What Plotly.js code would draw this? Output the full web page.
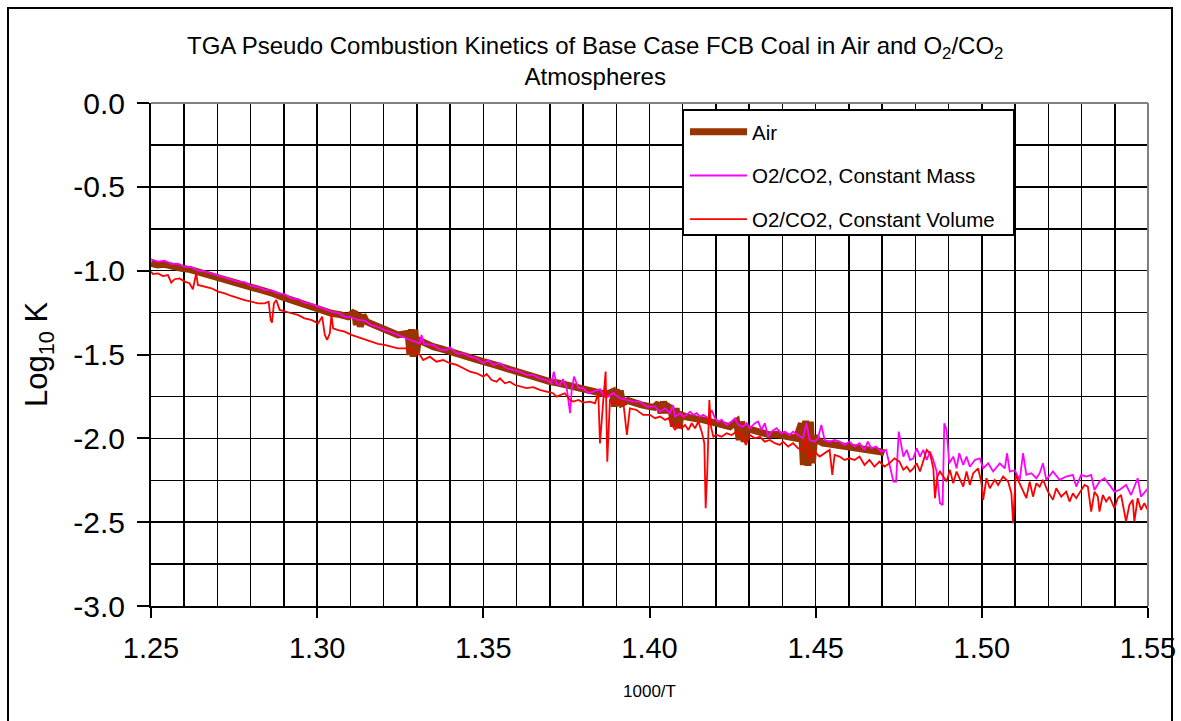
<!DOCTYPE html>
<html>
<head>
<meta charset="utf-8">
<script src="https://cdn.plot.ly/plotly-3.0.1.min.js"></script>
<style>html,body{margin:0;padding:0;background:#fff;}#chart{width:1181px;height:721px;}</style>
</head>
<body>
<div id="chart"></div>
<script>
// ---- Data ----
var seriesNames = ["Air", "O2/CO2, Constant Mass", "O2/CO2, Constant Volume"];

var airX = [1.2500,1.2520,1.2541,1.2566,1.2591,1.2616,1.2641,1.2666,1.2692,1.2717,1.2742,1.2767,1.2792,1.2817,1.2842,1.2867,1.2892,1.2917,1.2942,1.2967,1.2993,1.3018,1.3043,1.3068,1.3093,1.3113,1.3118,1.3123,1.3130,1.3138,1.3148,1.3170,1.3193,1.3218,1.3243,1.3274,1.3279,1.3284,1.3289,1.3294,1.3299,1.3304,1.3325,1.3349,1.3374,1.3399,1.3425,1.3450,1.3475,1.3500,1.3525,1.3550,1.3575,1.3600,1.3625,1.3650,1.3675,1.3700,1.3725,1.3751,1.3776,1.3801,1.3826,1.3851,1.3870,1.3889,1.3894,1.3900,1.3906,1.3912,1.3918,1.3935,1.3951,1.3976,1.4001,1.4015,1.4027,1.4035,1.4042,1.4050,1.4057,1.4065,1.4072,1.4080,1.4088,1.4095,1.4110,1.4122,1.4142,1.4162,1.4182,1.4202,1.4222,1.4242,1.4262,1.4270,1.4277,1.4285,1.4292,1.4307,1.4322,1.4342,1.4362,1.4382,1.4402,1.4422,1.4442,1.4457,1.4463,1.4470,1.4477,1.4484,1.4490,1.4497,1.4510,1.4522,1.4542,1.4562,1.4582,1.4602,1.4622,1.4642,1.4662,1.4682,1.4695,1.4707];
var airY = [-0.956,-0.966,-0.962,-0.978,-0.986,-0.992,-1.006,-1.018,-1.036,-1.046,-1.065,-1.076,-1.095,-1.106,-1.125,-1.136,-1.155,-1.172,-1.195,-1.206,-1.224,-1.236,-1.254,-1.262,-1.274,-1.244,-1.324,-1.254,-1.334,-1.264,-1.304,-1.322,-1.344,-1.360,-1.383,-1.373,-1.503,-1.349,-1.513,-1.353,-1.493,-1.413,-1.435,-1.453,-1.466,-1.483,-1.496,-1.513,-1.526,-1.543,-1.556,-1.572,-1.585,-1.602,-1.615,-1.632,-1.645,-1.662,-1.670,-1.682,-1.700,-1.711,-1.720,-1.731,-1.738,-1.721,-1.811,-1.707,-1.807,-1.715,-1.791,-1.775,-1.781,-1.800,-1.811,-1.815,-1.791,-1.850,-1.781,-1.847,-1.811,-1.821,-1.930,-1.821,-1.940,-1.860,-1.872,-1.880,-1.884,-1.890,-1.902,-1.910,-1.918,-1.930,-1.900,-2.010,-1.900,-2.020,-1.940,-1.950,-1.960,-1.968,-1.980,-1.976,-1.980,-1.992,-2.000,-1.910,-2.159,-1.894,-2.164,-1.900,-2.149,-1.990,-2.016,-2.029,-2.034,-2.039,-2.046,-2.049,-2.054,-2.059,-2.066,-2.069,-2.080,-2.089];

var massX = [1.2500,1.2521,1.2541,1.2561,1.2581,1.2601,1.2621,1.2641,1.2662,1.2682,1.2702,1.2722,1.2742,1.2762,1.2782,1.2802,1.2822,1.2842,1.2862,1.2882,1.2902,1.2922,1.2942,1.2962,1.2982,1.3003,1.3023,1.3043,1.3063,1.3083,1.3103,1.3123,1.3143,1.3163,1.3183,1.3203,1.3223,1.3243,1.3279,1.3309,1.3314,1.3321,1.3349,1.3369,1.3389,1.3399,1.3420,1.3440,1.3460,1.3480,1.3500,1.3515,1.3530,1.3550,1.3570,1.3590,1.3610,1.3630,1.3650,1.3670,1.3690,1.3705,1.3712,1.3720,1.3730,1.3740,1.3751,1.3761,1.3766,1.3773,1.3786,1.3801,1.3816,1.3831,1.3851,1.3861,1.3876,1.3891,1.3911,1.3931,1.3951,1.3971,1.3991,1.4017,1.4032,1.4047,1.4062,1.4070,1.4077,1.4092,1.4102,1.4112,1.4122,1.4132,1.4142,1.4152,1.4162,1.4177,1.4187,1.4197,1.4207,1.4217,1.4232,1.4247,1.4257,1.4267,1.4282,1.4292,1.4302,1.4317,1.4327,1.4337,1.4347,1.4357,1.4367,1.4382,1.4397,1.4407,1.4422,1.4432,1.4447,1.4462,1.4472,1.4482,1.4497,1.4507,1.4517,1.4527,1.4542,1.4557,1.4572,1.4587,1.4602,1.4617,1.4632,1.4647,1.4657,1.4667,1.4682,1.4697,1.4712,1.4727,1.4734,1.4742,1.4750,1.4764,1.4774,1.4784,1.4794,1.4804,1.4814,1.4824,1.4834,1.4844,1.4854,1.4864,1.4874,1.4882,1.4887,1.4894,1.4902,1.4914,1.4924,1.4932,1.4944,1.4954,1.4964,1.4979,1.4994,1.5004,1.5019,1.5034,1.5054,1.5069,1.5076,1.5084,1.5099,1.5114,1.5124,1.5134,1.5149,1.5164,1.5174,1.5184,1.5194,1.5214,1.5234,1.5254,1.5274,1.5284,1.5299,1.5314,1.5329,1.5339,1.5354,1.5369,1.5384,1.5399,1.5414,1.5434,1.5449,1.5469,1.5479,1.5494,1.5500];
var massY = [-0.932,-0.946,-0.940,-0.960,-0.958,-0.976,-0.978,-1.000,-1.004,-1.016,-1.026,-1.040,-1.049,-1.065,-1.069,-1.091,-1.098,-1.115,-1.118,-1.135,-1.140,-1.165,-1.168,-1.191,-1.198,-1.215,-1.228,-1.244,-1.252,-1.274,-1.278,-1.294,-1.298,-1.324,-1.336,-1.354,-1.366,-1.383,-1.413,-1.433,-1.383,-1.437,-1.443,-1.469,-1.473,-1.457,-1.493,-1.493,-1.513,-1.523,-1.552,-1.533,-1.562,-1.552,-1.582,-1.592,-1.602,-1.622,-1.622,-1.642,-1.652,-1.672,-1.602,-1.672,-1.682,-1.648,-1.701,-1.850,-1.711,-1.632,-1.701,-1.701,-1.731,-1.721,-1.707,-1.741,-1.751,-1.731,-1.761,-1.771,-1.781,-1.781,-1.811,-1.811,-1.841,-1.821,-1.850,-1.801,-1.870,-1.850,-1.870,-1.860,-1.841,-1.860,-1.850,-1.870,-1.860,-1.880,-1.831,-1.880,-1.900,-1.890,-1.920,-1.900,-1.880,-1.920,-1.930,-1.910,-1.940,-1.910,-1.900,-1.950,-1.910,-1.990,-1.960,-1.940,-1.970,-1.960,-1.980,-1.960,-1.980,-2.000,-1.910,-2.010,-2.020,-2.000,-1.920,-2.010,-2.020,-2.010,-2.020,-2.039,-2.020,-2.049,-2.029,-2.069,-2.020,-2.059,-2.049,-2.079,-2.069,-2.188,-2.258,-2.258,-1.960,-2.109,-2.069,-2.129,-2.119,-2.059,-2.109,-2.069,-2.129,-2.079,-2.129,-2.198,-2.387,-2.397,-1.910,-1.950,-2.149,-2.109,-2.179,-2.089,-2.159,-2.109,-2.169,-2.129,-2.119,-2.179,-2.149,-2.198,-2.149,-2.179,-2.089,-2.198,-2.190,-2.248,-2.089,-2.218,-2.208,-2.238,-2.208,-2.149,-2.248,-2.198,-2.248,-2.228,-2.218,-2.288,-2.218,-2.228,-2.218,-2.308,-2.258,-2.238,-2.278,-2.318,-2.308,-2.278,-2.338,-2.238,-2.348,-2.308,-2.298];

var volX = [1.2500,1.2506,1.2521,1.2536,1.2551,1.2561,1.2571,1.2586,1.2601,1.2616,1.2626,1.2631,1.2636,1.2641,1.2662,1.2682,1.2702,1.2722,1.2742,1.2762,1.2782,1.2802,1.2822,1.2842,1.2854,1.2860,1.2864,1.2870,1.2877,1.2887,1.2902,1.2922,1.2942,1.2962,1.2982,1.3003,1.3015,1.3023,1.3030,1.3038,1.3043,1.3048,1.3063,1.3083,1.3103,1.3123,1.3143,1.3163,1.3183,1.3203,1.3223,1.3243,1.3269,1.3289,1.3309,1.3319,1.3339,1.3359,1.3379,1.3399,1.3420,1.3440,1.3460,1.3480,1.3500,1.3510,1.3525,1.3540,1.3550,1.3565,1.3580,1.3595,1.3610,1.3630,1.3650,1.3670,1.3690,1.3710,1.3720,1.3730,1.3745,1.3761,1.3771,1.3786,1.3801,1.3821,1.3836,1.3846,1.3851,1.3861,1.3868,1.3873,1.3881,1.3901,1.3921,1.3932,1.3941,1.3961,1.3981,1.4001,1.4017,1.4032,1.4047,1.4057,1.4067,1.4077,1.4087,1.4097,1.4107,1.4117,1.4127,1.4137,1.4147,1.4157,1.4165,1.4169,1.4174,1.4180,1.4185,1.4192,1.4202,1.4217,1.4232,1.4247,1.4262,1.4277,1.4290,1.4302,1.4317,1.4332,1.4347,1.4362,1.4377,1.4392,1.4402,1.4417,1.4432,1.4447,1.4462,1.4472,1.4482,1.4497,1.4512,1.4527,1.4542,1.4550,1.4557,1.4572,1.4587,1.4602,1.4617,1.4632,1.4647,1.4662,1.4677,1.4692,1.4707,1.4722,1.4737,1.4752,1.4764,1.4774,1.4784,1.4794,1.4804,1.4814,1.4824,1.4834,1.4844,1.4854,1.4859,1.4866,1.4874,1.4884,1.4894,1.4904,1.4914,1.4924,1.4934,1.4944,1.4954,1.4964,1.4974,1.4989,1.4999,1.5004,1.5014,1.5024,1.5039,1.5049,1.5064,1.5079,1.5089,1.5094,1.5102,1.5114,1.5124,1.5134,1.5144,1.5154,1.5164,1.5174,1.5184,1.5199,1.5214,1.5224,1.5239,1.5254,1.5264,1.5274,1.5284,1.5299,1.5309,1.5319,1.5329,1.5339,1.5349,1.5354,1.5364,1.5374,1.5384,1.5399,1.5409,1.5419,1.5434,1.5444,1.5454,1.5459,1.5469,1.5479,1.5489,1.5499,1.5500];
var volY = [-1.006,-1.020,-1.016,-1.032,-1.026,-1.071,-1.051,-1.046,-1.065,-1.075,-1.111,-1.055,-1.016,-1.085,-1.095,-1.105,-1.125,-1.135,-1.151,-1.165,-1.175,-1.185,-1.195,-1.195,-1.185,-1.294,-1.310,-1.195,-1.175,-1.234,-1.244,-1.254,-1.264,-1.284,-1.294,-1.314,-1.274,-1.383,-1.413,-1.374,-1.264,-1.344,-1.354,-1.364,-1.383,-1.397,-1.413,-1.423,-1.437,-1.443,-1.453,-1.463,-1.463,-1.483,-1.503,-1.533,-1.513,-1.543,-1.533,-1.552,-1.562,-1.582,-1.602,-1.612,-1.632,-1.616,-1.652,-1.662,-1.642,-1.672,-1.662,-1.682,-1.692,-1.701,-1.695,-1.711,-1.721,-1.731,-1.751,-1.741,-1.731,-1.771,-1.781,-1.771,-1.787,-1.781,-1.791,-1.731,-2.030,-1.771,-1.602,-2.140,-1.771,-1.791,-1.781,-1.980,-1.821,-1.831,-1.860,-1.860,-1.880,-1.870,-1.890,-1.880,-1.920,-1.950,-1.910,-1.940,-1.920,-1.950,-1.910,-1.940,-1.900,-1.960,-2.029,-2.417,-2.188,-1.771,-1.930,-1.990,-1.980,-1.990,-1.970,-1.980,-1.960,-1.980,-2.039,-1.980,-2.000,-1.990,-2.020,-2.010,-2.029,-2.039,-2.020,-2.049,-2.029,-2.059,-2.069,-2.000,-2.119,-2.079,-2.109,-2.089,-2.069,-2.218,-2.099,-2.109,-2.129,-2.119,-2.129,-2.109,-2.159,-2.129,-2.169,-2.139,-2.169,-2.149,-2.119,-2.139,-2.188,-2.169,-2.198,-2.179,-2.149,-2.198,-2.139,-2.069,-2.089,-2.179,-2.357,-2.228,-2.198,-2.228,-2.258,-2.188,-2.268,-2.198,-2.248,-2.288,-2.198,-2.278,-2.208,-2.179,-2.268,-2.367,-2.238,-2.298,-2.248,-2.278,-2.228,-2.258,-2.328,-2.506,-2.218,-2.268,-2.308,-2.357,-2.258,-2.348,-2.268,-2.288,-2.248,-2.318,-2.367,-2.298,-2.348,-2.318,-2.377,-2.328,-2.357,-2.308,-2.278,-2.288,-2.437,-2.318,-2.348,-2.437,-2.338,-2.377,-2.348,-2.417,-2.357,-2.338,-2.496,-2.397,-2.367,-2.496,-2.357,-2.427,-2.387,-2.427,-2.367];

var xTickVals = [1.25, 1.30, 1.35, 1.40, 1.45, 1.50, 1.55];
var xTickText = ["1.25", "1.30", "1.35", "1.40", "1.45", "1.50", "1.55"];
var yTickVals = [0, -0.5, -1, -1.5, -2, -2.5, -3];
var yTickText = ["0.0", "-0.5", "-1.0", "-1.5", "-2.0", "-2.5", "-3.0"];

// ---- Chart ----
var FONT = "Liberation Sans, Arial, sans-serif";

var traces = [
  {x: airX, y: airY, name: seriesNames[0], type: "scatter", mode: "lines",
   line: {color: "#993300", width: 7}, legendgroup: "a"},
  {x: massX, y: massY, name: seriesNames[1], type: "scatter", mode: "lines",
   line: {color: "#FF00FF", width: 1.8}, legendgroup: "b"},
  {x: volX, y: volY, name: seriesNames[2], type: "scatter", mode: "lines",
   line: {color: "#FF0000", width: 1.8}, legendgroup: "c"}
];

var L = 151, R = 1148, T = 103, B = 606, W = 1181, H = 721;
var pw = R - L, ph = B - T;
function px2x(p) { return (p - L) / pw; }
function py2y(p) { return 1 - (p - T) / ph; }

var layout = {
  width: W, height: H,
  margin: {l: L, r: W - R, t: T, b: H - B, pad: 0},
  paper_bgcolor: "#ffffff", plot_bgcolor: "#ffffff",
  font: {family: FONT, color: "#000"},
  showlegend: true,
  title: {
    text: "TGA Pseudo Combustion Kinetics of Base Case FCB Coal in Air and O<sub>2</sub>/CO<sub>2</sub><br>Atmospheres",
    font: {family: FONT, size: 24, color: "#000"},
    xref: "container", x: 0.504, xanchor: "center",
    yref: "container", y: 1 - 54 / H, yanchor: "top"
  },
  xaxis: {
    range: [1.25, 1.55], tickvals: xTickVals, ticktext: xTickText,
    ticks: "outside", ticklen: 10, tickwidth: 2, tickcolor: "#000",
    showline: true, linewidth: 2, linecolor: "#000",
    showgrid: true, gridcolor: "#000", gridwidth: 1.5,
    minor: {dtick: 0.01, showgrid: true, gridcolor: "#000", gridwidth: 1.5, ticks: ""},
    zeroline: false, ticklabelstandoff: 5,
    tickfont: {family: FONT, size: 29, color: "#000"},
    title: {text: "1000/T", font: {family: FONT, size: 17, color: "#000"}, standoff: 22}
  },
  yaxis: {
    range: [-3, 0], tickvals: yTickVals, ticktext: yTickText,
    ticks: "outside", ticklen: 12, tickwidth: 2, tickcolor: "#000",
    showline: true, linewidth: 2, linecolor: "#000",
    showgrid: true, gridcolor: "#000", gridwidth: 1.5,
    minor: {dtick: 0.25, showgrid: true, gridcolor: "#000", gridwidth: 1.5, ticks: ""},
    zeroline: false, ticklabelstandoff: 6,
    tickfont: {family: FONT, size: 30, color: "#000"},
    title: {text: "Log<sub>10</sub> K", font: {family: FONT, size: 31, color: "#000"}, standoff: 16}
  },
  legend: {
    x: px2x(685), xanchor: "left", y: py2y(112), yanchor: "top",
    bgcolor: "rgba(0,0,0,0)", bordercolor: "#000", borderwidth: 0,
    font: {family: FONT, size: 20.5, color: "#000"},
    traceorder: "grouped", tracegroupgap: 14,
    itemwidth: 57
  },
  shapes: [
    // outer chart border
    {type: "rect", xref: "paper", yref: "paper",
     x0: px2x(8), x1: px2x(1172), y0: py2y(740), y1: py2y(8),
     line: {color: "#000", width: 2}, layer: "below"},
    // gray plot-area frame (top and right)
    {type: "line", xref: "paper", yref: "paper", x0: 0, x1: 1, y0: 1, y1: 1,
     line: {color: "#808080", width: 2}, layer: "above"},
    {type: "line", xref: "paper", yref: "paper", x0: 1, x1: 1, y0: 0, y1: 1,
     line: {color: "#808080", width: 2}, layer: "above"},
    // legend box
    {type: "rect", xref: "paper", yref: "paper",
     x0: px2x(683), x1: px2x(1014), y0: py2y(235), y1: py2y(110),
     fillcolor: "#ffffff", line: {color: "#000", width: 2}, layer: "above"}
  ]
};

Plotly.newPlot("chart", traces, layout, {staticPlot: true, displayModeBar: false});
</script>
</body>
</html>
